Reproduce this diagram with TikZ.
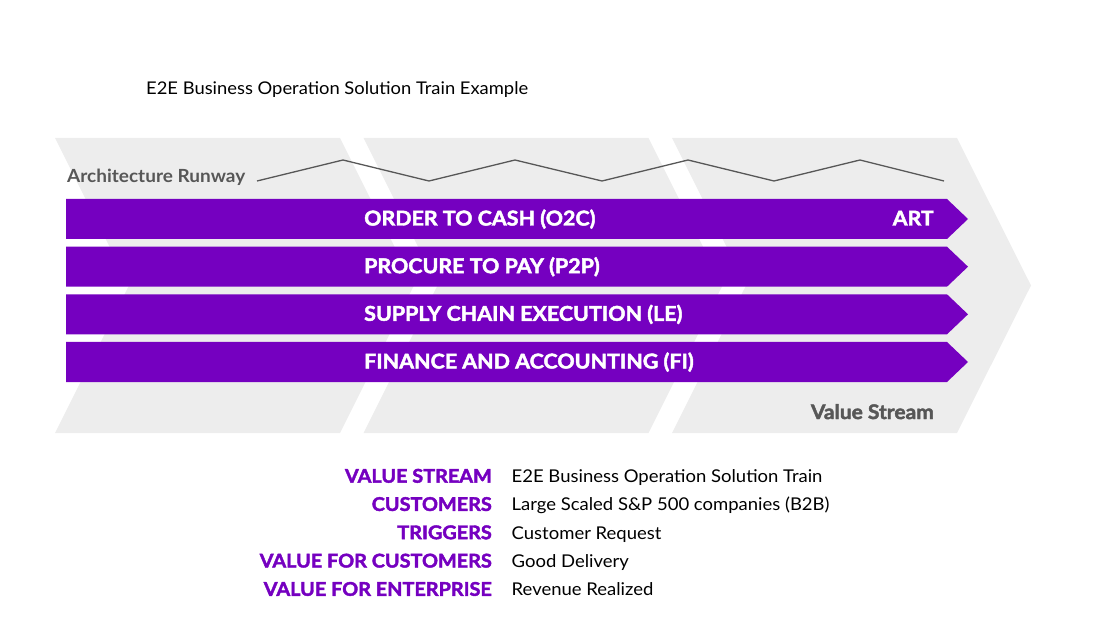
\documentclass[tikz,border=0pt]{standalone}
\usepackage{fontspec}
\setmainfont{Lato}[FakeStretch=1.05]
\newfontfamily\semifont{Lato}[UprightFont={* Bold}, FakeStretch=1.05]
\newfontfamily\heavyfont{Lato}[UprightFont={* Bold}, FakeBold=2.2, FakeStretch=1.05]
\usetikzlibrary{positioning}

\definecolor{trainPurple}{HTML}{7500C0}
\definecolor{chevronGray}{HTML}{EDEDED}
\definecolor{labelGray}{HTML}{575757}

\begin{document}
\begin{tikzpicture}[
			x=1pt, y=-1pt,
			% Big grey chevrons behind the trains
			chevron/.style={fill=chevronGray, draw=none},
			% Purple ART bars
			artbar/.style={fill=trainPurple, draw=none},
			bar text/.style={text=white, font=\heavyfont\fontsize{20.4}{22}\selectfont, inner sep=0pt},
			% Grey captions and runway line
			gray label/.style={text=labelGray, inner sep=0pt},
			runway/.style={draw=labelGray, line width=1.3pt},
			% Legend below
			key label/.style={text=trainPurple, font=\heavyfont\fontsize{18.9}{20}\selectfont, anchor=base east, inner sep=0pt},
			value label/.style={text=black, font=\fontsize{17.6}{20}\selectfont, anchor=base west, inner sep=0pt},
			mainTitle/.style={text=black, font=\fontsize{17.5}{20}\selectfont, anchor=base west, inner sep=0pt}
			]
			\useasboundingbox (0,0) rectangle (1106,644);
			
			% ==============================================================================
			% TITLE
			% ==============================================================================
			\node[mainTitle] (title) at (146,95) {E2E Business Operation Solution Train Example};
			
			% ==============================================================================
			% VALUE STREAM CHEVRONS
			% ==============================================================================
			\foreach \x in {55, 363.5, 672} {
				\fill[chevron] (\x,138) -- (\x+285,138) -- (\x+359,285.5) -- (\x+285,433)
					-- (\x,433) -- (\x+74,285.5) -- cycle;
			}
			
			% Architecture runway
			\node[gray label, font=\semifont\fontsize{18.1}{20}\selectfont, anchor=base west] (runwayLabel) at (67,183) {Architecture Runway};
			\draw[runway] (257,181) -- (343,160) -- (429,181) -- (515,160) -- (602,181)
				-- (688,160) -- (774,181) -- (860,160) -- (944,181);
			
			% ==============================================================================
			% ARTs
			% ==============================================================================
			\foreach \y/\name/\txt in {199/o2c/ORDER TO CASH (O2C), 246.7/p2p/PROCURE TO PAY (P2P),
				294.3/le/SUPPLY CHAIN EXECUTION (LE), 342/fi/FINANCE AND ACCOUNTING (FI)} {
				\fill[artbar] (66,\y) -- (947,\y) -- (968,\y+20) -- (947,\y+40) -- (66,\y+40) -- cycle;
				\node[bar text, anchor=base west] (\name) at (364,\y+26.5) {\txt};
			}
			\node[bar text, anchor=base east] (art) at (934,225.5) {ART};
			
			\node[gray label, font=\heavyfont\fontsize{20}{22}\selectfont, anchor=base east] (streamLabel) at (934,419) {Value Stream};
			
			% ==============================================================================
			% LEGEND
			% ==============================================================================
			\node[key label] (k1) at (492,482.7) {VALUE STREAM};
			\node[key label] (k2) at (492,510.9) {CUSTOMERS};
			\node[key label] (k3) at (492,539.2) {TRIGGERS};
			\node[key label] (k4) at (492,567.5) {VALUE FOR CUSTOMERS};
			\node[key label] (k5) at (492,595.8) {VALUE FOR ENTERPRISE};
			
			\node[value label] (v1) at (511.5,482.7) {E2E Business Operation Solution Train};
			\node[value label] (v2) at (511.5,510.9) {Large Scaled S\&P 500 companies (B2B)};
			\node[value label] (v3) at (511.5,539.2) {Customer Request};
			\node[value label] (v4) at (511.5,567.5) {Good Delivery};
			\node[value label] (v5) at (511.5,595.8) {Revenue Realized};
			
		\end{tikzpicture}
\end{document}
